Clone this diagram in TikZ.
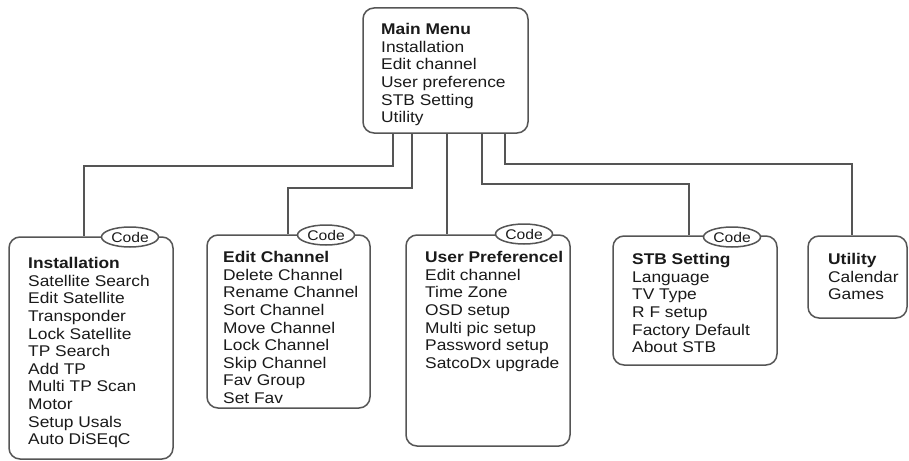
\documentclass[tikz,border=0pt]{standalone}
\usepackage{fontspec}
\setmainfont{Liberation Sans}[FakeStretch=1.12]
\usetikzlibrary{shapes.geometric}
\definecolor{ln}{HTML}{555555}
\definecolor{tx}{HTML}{1A1A1A}
\begin{document}
\begin{tikzpicture}[x=1pt,y=-1pt,
  box/.style={draw=ln, line width=1.5pt, rounded corners=11pt, inner sep=0pt},
  lbl/.style={anchor=north west, inner sep=0pt, align=left, text=tx, font=\fontsize{15.5}{17.6}\selectfont},
  code/.style={ellipse, draw=ln, fill=white, line width=1.5pt, minimum width=57pt, minimum height=20pt, inner sep=0pt, text=tx, font=\fontsize{14}{14}\selectfont},
  conn/.style={draw=ln, line width=1.5pt}]
\useasboundingbox (0,0) rectangle (909,460);
\fill[white] (0,0) rectangle (909,460);
% boxes
\node[box, minimum width=165pt, minimum height=125pt] (main) at (445.5,70.5) {};
\node[box, minimum width=164pt, minimum height=222pt] (inst) at (91,348) {};
\node[box, minimum width=163pt, minimum height=173pt] (edit) at (288.5,321.5) {};
\node[box, minimum width=164pt, minimum height=211pt] (user) at (488,340.5) {};
\node[box, minimum width=164pt, minimum height=129pt] (stb) at (695,300.5) {};
\node[box, minimum width=99pt, minimum height=82pt] (util) at (857.5,277) {};
% connectors
\coordinate (t1) at (393,166); \coordinate (u1) at (84,166);
\coordinate (t2) at (412,188); \coordinate (u2) at (288,188);
\coordinate (t3) at (447,188);
\coordinate (t4) at (482,184); \coordinate (u4) at (689,184);
\coordinate (t5) at (505,164); \coordinate (u5) at (852,164);
\draw[conn] (main.south -| t1) -- (t1) -- (u1) -- (inst.north -| u1);
\draw[conn] (main.south -| t2) -- (t2) -- (u2) -- (edit.north -| u2);
\draw[conn] (main.south -| t3) -- (user.north -| t3);
\draw[conn] (main.south -| t4) -- (t4) -- (u4) -- (stb.north -| u4);
\draw[conn] (main.south -| t5) -- (t5) -- (u5) -- (util.north -| u5);
% code tags
\node[code] (c1) at (130,237) {Code};
\node[code] (c2) at (326,235) {Code};
\node[code] (c3) at (524,234) {Code};
\node[code] (c4) at (732,237) {Code};
% texts
\node[lbl] (mainT) at (381,23.2) {\textbf{Main Menu}\\Installation\\Edit channel\\User preference\\STB Setting\\Utility};
\node[lbl] (instT) at (28,257.2) {\textbf{Installation}\\Satellite Search\\Edit Satellite\\Transponder\\Lock Satellite\\TP Search\\Add TP\\Multi TP Scan\\Motor\\Setup Usals\\Auto DiSEqC};
\node[lbl] (editT) at (223,251.2) {\textbf{Edit Channel}\\Delete Channel\\Rename Channel\\Sort Channel\\Move Channel\\Lock Channel\\Skip Channel\\Fav Group\\Set Fav};
\node[lbl] (userT) at (425,251.2) {\textbf{User Preferencel}\\Edit channel\\Time Zone\\OSD setup\\Multi pic setup\\Password setup\\SatcoDx upgrade};
\node[lbl] (stbT) at (632,253.2) {\textbf{STB Setting}\\Language\\TV Type\\R F setup\\Factory Default\\About STB};
\node[lbl] (utilT) at (828,253.2) {\textbf{Utility}\\Calendar\\Games};
\end{tikzpicture}
\end{document}
